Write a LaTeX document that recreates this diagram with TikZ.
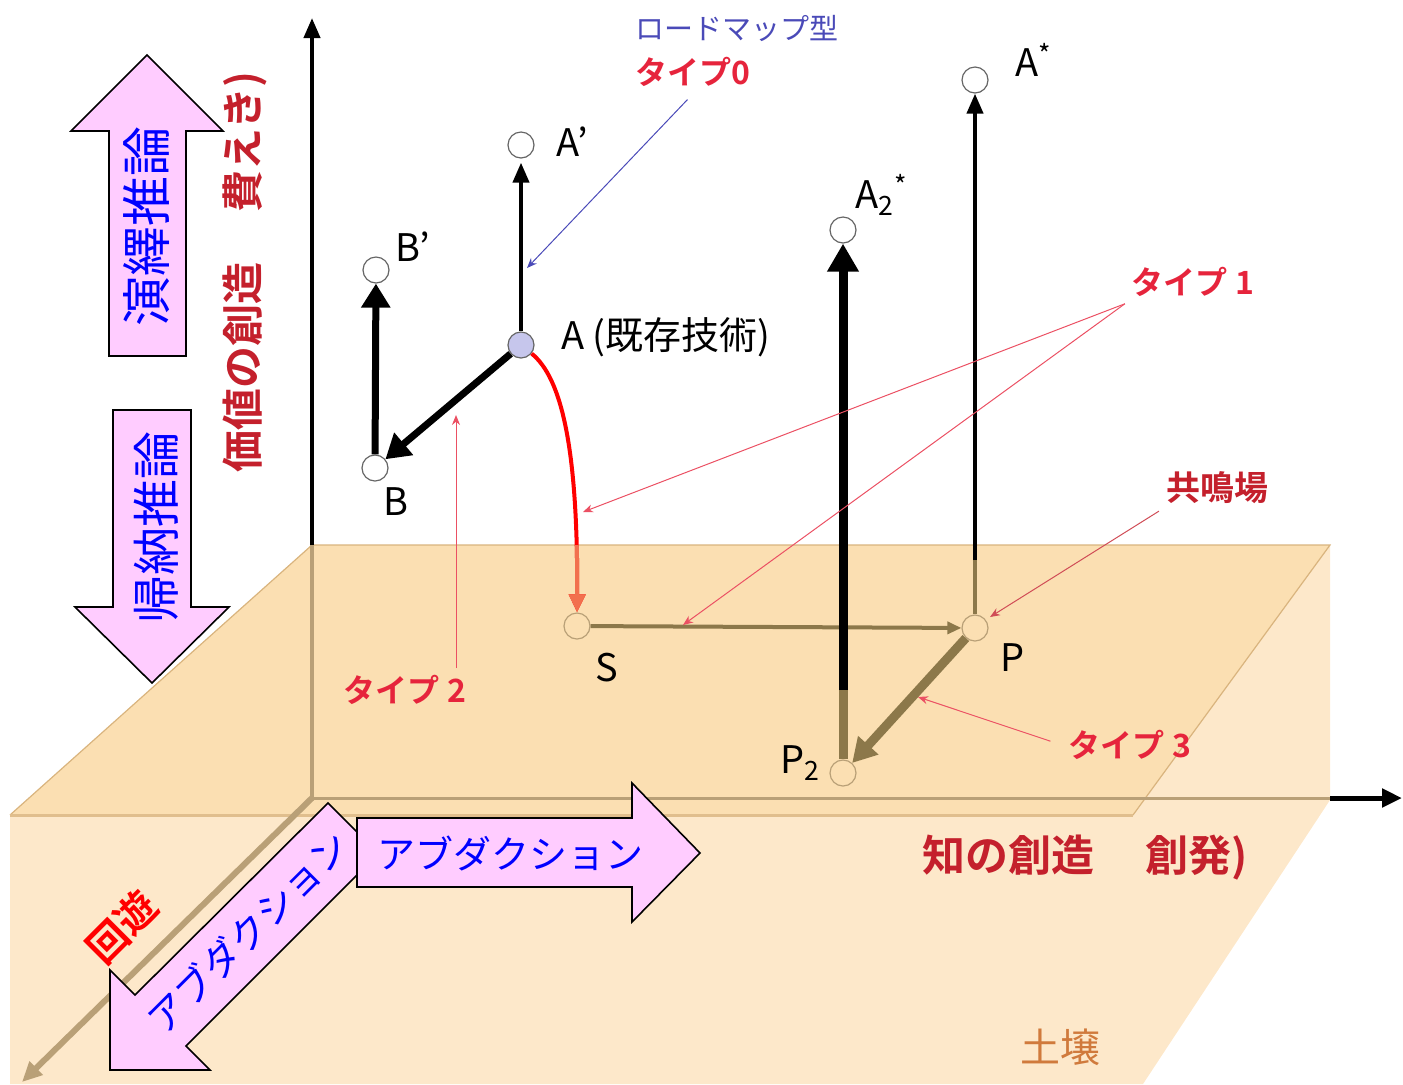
\documentclass[tikz,border=0pt]{standalone}
\usepackage{fontspec}
\setmainfont{Noto Sans CJK JP}[BoldFont={Noto Sans CJK JP Bold}]
\usepackage{tikz}
\usetikzlibrary{arrows.meta}
\usepackage{xcolor}
\definecolor{soil}{HTML}{FDE8CA}
\definecolor{plane}{HTML}{FBDFB2}
\definecolor{planeedge}{HTML}{D9B47E}
\definecolor{tanline}{HTML}{8C784A}
\definecolor{axistan}{HTML}{B9A077}
\definecolor{pinkfill}{HTML}{FFCCFF}
\definecolor{typered}{HTML}{E6243C}
\definecolor{darkred}{HTML}{C4202C}
\definecolor{roadblue}{HTML}{4A4AB8}
\definecolor{lav}{HTML}{C6C6EC}
\definecolor{salmon}{HTML}{F2704E}
\definecolor{soiltext}{HTML}{D07A3C}
\newcommand{\rdd}{\color{typered}}
\newcommand{\fsz}[1]{\fontsize{#1pt}{#1pt}\selectfont}

\begin{document}
\begin{tikzpicture}[x=0.5pt,y=-0.5pt,
    spot/.style={circle,draw=black!60,fill=white,line width=0.6pt,minimum size=13pt,inner sep=0pt},
    gspot/.style={spot,draw=axistan,fill=plane},
    bigarrow/.style={fill=pinkfill,draw=black,line width=0.8pt},
    lbl/.style={font=\fsz{19}},
    call/.style={line width=0.5pt,-{Stealth[length=5pt,width=4pt]}}]
                \useasboundingbox (0,0) rectangle (1403,1084);

                \fill[soil] (10,815) -- (312,545) -- (1330,545) -- (1330,800) -- (1143,1084) -- (10,1084) -- cycle;
                \fill[plane] (10,815) -- (312,545) -- (1330,545) -- (1133,815) -- cycle;
                \draw[planeedge, line width=0.6pt] (10,815) -- (312,545) -- (1330,545) -- (1133,815);
                \draw[planeedge!80!soil, line width=1.5pt] (10,815) -- (1133,815);

                \coordinate (O) at (312,545);
                \coordinate (O2) at (312,798);
                \coordinate (Ytop) at (312,18);
                \coordinate (Xe) at (1330,798);
                \coordinate (Xtip) at (1402,798);
                \coordinate (Ztip) at (22,1082);
                \draw[axistan, line width=2pt] (O) -- (O2);
                \draw[axistan, line width=1.5pt] (O2) -- (Xe);
                \draw[line width=2.5pt, -{Stealth[length=10pt,width=9pt,inset=0pt]}] (Xe) -- (Xtip);
                \draw[axistan, line width=3pt, -{Stealth[length=10pt,width=9pt,inset=0pt]}] (O2) -- (Ztip);
                \draw[line width=2pt, -{Stealth[length=10pt,width=8pt,inset=0pt]}] (O) -- (Ytop);

                \filldraw[bigarrow] (109,356) -- (186,356) -- (186,131) -- (223,131) -- (147,55) -- (71,131) -- (109,131) -- cycle;
                \node[rotate=90, inner sep=0pt, text=blue, font=\fsz{25}] (deduct) at (147,226) {演繹推論};
                \filldraw[bigarrow] (113,410) -- (191,410) -- (191,607) -- (229,607) -- (152,683) -- (75,607) -- (113,607) -- cycle;
                \node[rotate=90, inner sep=0pt, text=blue, font=\fsz{24}] (induct) at (156,527) {帰納推論};
                \filldraw[bigarrow] (357,818) -- (632,818) -- (632,783) -- (700,853) -- (632,922) -- (632,887) -- (357,887) -- cycle;
                \node[inner sep=0pt, text=blue, font=\fsz{19}] (abdright) at (510,853) {アブダクション};
                \filldraw[bigarrow] (328,803) -- (357,832) -- (357,875) -- (186,1046) -- (210,1070) -- (110,1070) -- (110,970) -- (135,995) -- cycle;
                \node[rotate=45, inner sep=0pt, text=blue, font=\fsz{19}] (abddiag) at (248,932) {アブダクション};
                \node[rotate=45, inner sep=0pt, text=red, font=\bfseries\fsz{20}] (kaiyu) at (122,927) {回遊};

                \node[rotate=90, inner sep=0pt, text=darkred, font=\bfseries\fsz{21}] (valaxis) at (245,272) {価値の創造\hspace{1.2em}費えき)};
                \node[text=darkred, font=\bfseries\fsz{21.5}] (knowaxis) at (1085,858) {知の創造\hspace{1.2em}創発)};
                \node[text=soiltext, font=\fsz{20}] (soillbl) at (1060,1047) {土壌};

                \node[spot] (Apr) at (521,145) {};
                \node[spot] (Bpr) at (376,270) {};
                \node[spot, fill=lav] (A) at (521,345) {};
                \node[spot] (B) at (375,468) {};
                \node[spot] (Ast) at (975,80) {};
                \node[spot] (Atwo) at (843,230) {};
                \node[gspot] (S) at (577,626) {};
                \node[gspot] (P) at (975,628) {};
                \node[gspot] (Ptwo) at (843,773) {};

                \node[lbl] (lApr) at (572,142) {A'};
                \node[lbl] (lBpr) at (413,247) {B'};
                \node[lbl] (lAst) at (1034,60) {A\textsuperscript{*}};
                \node[lbl] (lAtwo) at (882,195) {A\textsubscript{2}\textsuperscript{*}};
                \node[lbl, anchor=west] (lA) at (554,337) {A (既存技術)};
                \node[lbl] (lB) at (396,502) {B};
                \node[lbl] (lS) at (607,668) {S};
                \node[lbl] (lP) at (1013,658) {P};
                \node[lbl] (lPtwo) at (800,763) {P\textsubscript{2}};

                \draw[line width=2pt, -{Stealth[length=10pt,width=8pt,inset=0pt]}, shorten >=2pt] (A) -- (Apr);
                \draw[line width=3.5pt, -{Stealth[length=12pt,width=14pt,inset=0pt]}] (B) -- (Bpr);
                \draw[line width=3.5pt, -{Stealth[length=12pt,width=14pt,inset=0pt]}] (A) -- (B);
                \draw[red, line width=2pt, -{Stealth[length=9pt,width=8pt,inset=0pt]}] (A) .. controls (562,378) and (578,450) .. (S);
                \begin{scope}
                \clip (0,545) rectangle (1403,1084);
                \draw[salmon, line width=2pt, -{Stealth[length=9pt,width=8pt,inset=0pt]}] (A) .. controls (562,378) and (578,450) .. (S);
                \end{scope}
                \draw[tanline, line width=2pt, -{Stealth[length=7pt,width=6pt,inset=0pt]}] (S) -- (P);
                \coordinate (Ptop) at (975,560);
                \draw[tanline, line width=2pt] (P) -- (Ptop);
                \draw[line width=2pt, -{Stealth[length=10pt,width=8pt,inset=0pt]}] (Ptop) -- (Ast);
                \coordinate (Ptwotop) at (843,690);
                \draw[tanline, line width=4.5pt] (Ptwo) -- (Ptwotop);
                \draw[line width=4.5pt, -{Stealth[length=14pt,width=15pt,inset=0pt]}] (Ptwotop) -- (Atwo);
                \draw[tanline, line width=4.5pt, -{Stealth[length=12pt,width=13pt,inset=0pt]}] (P) -- (Ptwo);

                \node[text=roadblue, font=\fsz{14.5}] (road) at (737,28) {ロードマップ型};
                \node[font=\bfseries\fsz{16}] (tzero) at (693,72) {\rdd タイプ0};
                \node[font=\bfseries\fsz{16}] (tone) at (1193,282) {\rdd タイプ 1};
                \node[font=\bfseries\fsz{16}] (ttwo) at (405,690) {\rdd タイプ 2};
                \node[font=\bfseries\fsz{16}] (tthree) at (1130,745) {\rdd タイプ 3};
                \node[text=darkred, font=\bfseries\fsz{17}] (kyomei) at (1217,488) {共鳴場};
                \coordinate (czero) at (527,268);
                \coordinate (conea) at (583,512);
                \coordinate (coneb) at (683,625);
                \coordinate (ctwo) at (456,415);
                \coordinate (cthree) at (918,697);
                \coordinate (ckyo) at (990,617);
                \draw[roadblue, call, shorten <=4pt] (tzero.south) -- (czero);
                \draw[typered!80, call] (tone.south west) -- (conea);
                \draw[typered!80, call] (tone.south west) -- (coneb);
                \draw[typered!80, call] (ttwo.north -| ctwo) -- (ctwo);
                \draw[typered!80, call, shorten <=6pt] (tthree.west) -- (cthree);
                \draw[darkred!80, call] (kyomei.south west) -- (ckyo);
            \end{tikzpicture}
\end{document}
